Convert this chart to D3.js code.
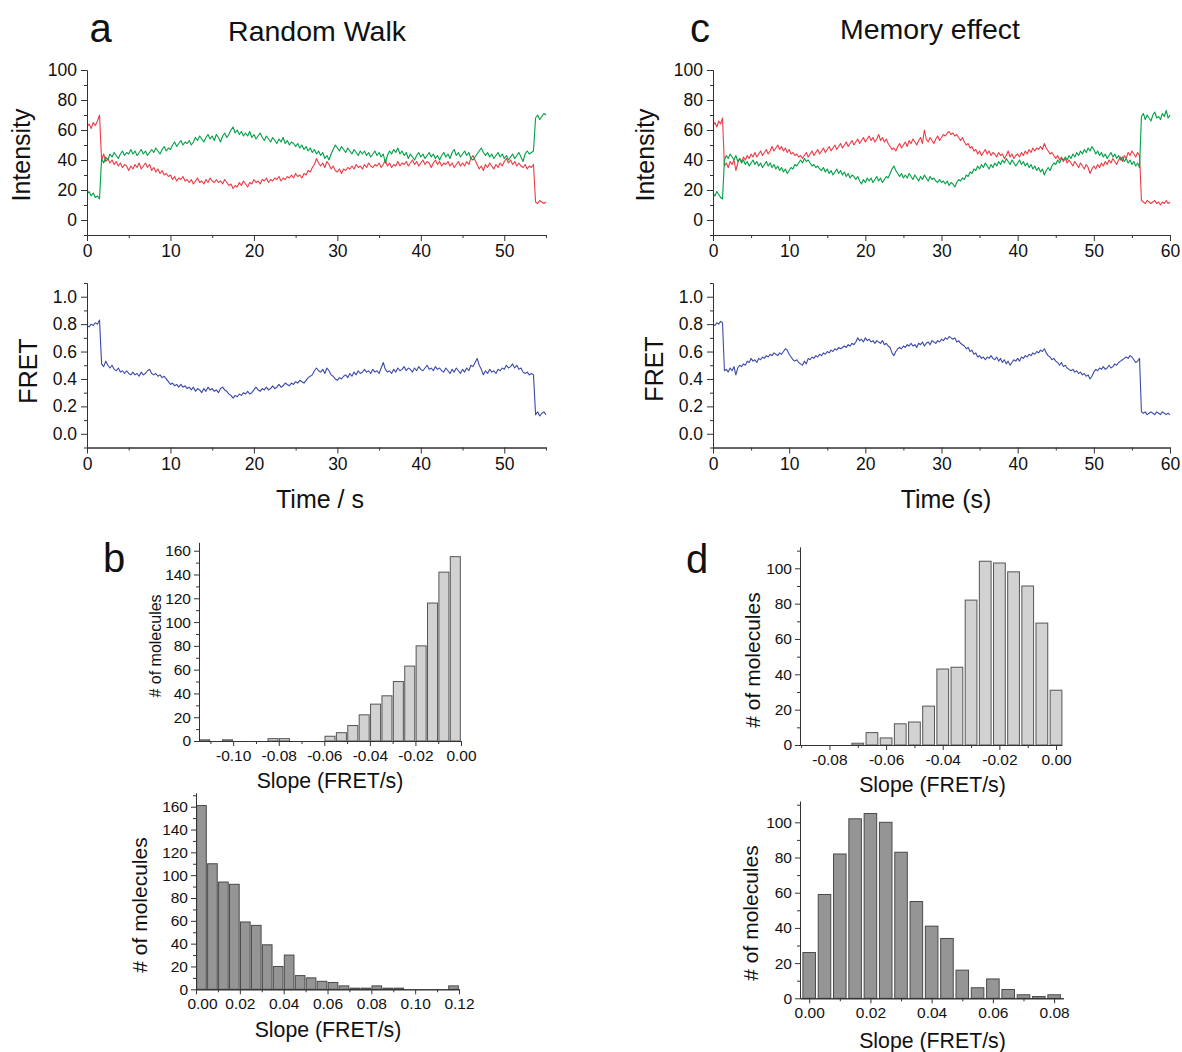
<!DOCTYPE html>
<html>
<head>
<meta charset="utf-8">
<script src="https://cdn.jsdelivr.net/npm/d3@7"></script>
<style>
  body { margin: 0; background: #fff; }
  text { font-family: "Liberation Sans", Arial, sans-serif; fill: #111; }
</style>
</head>
<body>
<svg id="fig" width="1182" height="1052"></svg>
<script>
// frames are 0.25 s apart
const frameTime = 0.25;

// ---- panel a: random walk trace (acceptor red, donor green, FRET) ----
const redA = [
  62,64,61,65,63,66,70,40,44,39,41,38,40,37,39,36,38,35,37,36,
  33,36,34,37,35,38,34,36,38,35,37,33,35,32,34,31,33,30,31,29,
  30,27,29,26,28,27,29,26,27,25,27,24,26,28,25,26,24,27,25,28,
  26,25,27,25,26,24,27,25,23,24,21,23,22,25,23,26,24,22,25,24,
  27,25,26,24,27,26,28,25,27,26,28,27,29,26,28,27,29,28,30,28,
  31,29,30,28,31,30,33,32,35,37,41,38,36,38,35,39,37,34,36,33,
  32,34,31,34,33,35,34,36,34,37,35,36,34,37,35,38,36,35,37,36,
  38,35,37,40,36,38,35,37,36,39,36,38,37,39,36,38,40,37,39,36,
  38,40,37,39,38,35,38,40,37,39,36,38,37,39,36,38,35,37,39,36,
  38,36,39,37,41,43,40,37,34,36,33,37,35,38,36,34,37,35,38,36,
  39,41,38,40,37,39,36,38,36,35,37,34,36,35,37,12,11,13,12,11,
  12
];
const greenA = [
  17,19,16,18,15,16,14,41,38,42,40,44,42,45,43,41,44,46,43,45,
  44,47,44,46,43,45,47,44,46,43,45,47,45,48,46,44,47,49,46,48,
  47,50,52,49,51,53,50,52,51,53,50,52,55,53,56,54,52,55,57,54,
  56,53,57,55,52,56,58,55,57,60,62,58,60,57,59,56,58,56,59,55,
  57,54,56,58,55,53,56,54,52,55,53,51,54,52,55,51,53,50,52,51,
  49,51,48,50,47,49,46,48,45,47,44,46,43,45,41,43,40,44,47,50,
  48,46,49,47,45,48,46,44,47,45,43,46,44,46,43,45,42,44,46,43,
  45,42,44,38,43,46,44,47,45,48,44,46,43,45,41,44,42,40,43,45,
  42,44,41,43,45,42,44,41,43,40,43,45,42,44,41,45,47,43,45,42,
  44,46,43,45,41,40,42,44,46,48,45,43,45,42,44,41,43,45,42,44,
  41,43,40,42,44,41,43,45,42,39,44,46,44,45,46,68,70,67,69,71,
  70
];
const fretA = [
  .79,.78,.80,.79,.81,.80,.83,.51,.49,.53,.50,.48,.50,.47,.46,.48,.45,.46,.44,.46,
  .44,.43,.45,.43,.44,.42,.45,.43,.44,.46,.47,.44,.43,.44,.42,.43,.41,.42,.40,.38,
  .36,.37,.35,.36,.34,.36,.34,.35,.33,.34,.32,.34,.31,.33,.32,.30,.33,.31,.34,.32,
  .33,.31,.32,.30,.33,.34,.32,.31,.29,.28,.26,.28,.27,.29,.28,.30,.29,.31,.29,.30,
  .32,.34,.32,.31,.33,.32,.34,.32,.33,.35,.33,.34,.36,.34,.35,.37,.36,.35,.37,.36,
  .38,.37,.39,.38,.37,.39,.41,.42,.43,.46,.48,.46,.45,.47,.44,.48,.46,.43,.42,.40,
  .39,.41,.40,.42,.43,.41,.44,.42,.45,.43,.46,.44,.45,.47,.45,.46,.44,.47,.45,.46,
  .44,.48,.52,.47,.45,.46,.44,.47,.45,.48,.46,.47,.49,.46,.48,.47,.45,.48,.46,.49,
  .47,.46,.48,.50,.47,.48,.46,.49,.47,.48,.46,.45,.48,.46,.44,.47,.45,.48,.46,.44,
  .47,.45,.48,.46,.50,.49,.52,.55,.50,.47,.43,.46,.44,.47,.45,.46,.44,.47,.46,.48,
  .47,.50,.48,.49,.51,.48,.50,.47,.48,.45,.44,.45,.43,.44,.43,.14,.16,.13,.15,.16,
  .14
];

// ---- panel c: memory effect trace ----
const redC = [
  63,65,62,66,64,68,36,38,35,39,37,40,33,38,41,39,42,40,43,41,
  44,42,45,42,44,46,43,45,47,44,46,49,46,48,50,47,49,46,48,45,
  47,44,45,43,44,42,43,41,43,45,42,44,46,43,45,47,44,46,48,45,
  47,49,46,48,50,47,49,51,48,50,52,49,51,53,50,52,54,51,53,55,
  52,54,56,53,55,52,54,57,53,55,52,54,51,49,47,48,46,49,51,48,
  50,52,49,53,51,54,52,50,53,55,51,60,54,52,55,53,51,54,56,53,
  55,57,56,58,59,57,58,56,57,55,53,55,52,50,51,48,49,46,47,44,
  46,43,45,47,44,46,43,45,44,42,45,43,44,41,43,46,42,44,41,43,
  44,42,45,43,46,44,47,45,48,46,48,47,49,47,51,48,46,44,45,43,
  41,43,40,42,39,41,38,40,38,36,39,37,35,38,36,34,37,35,31,34,
  36,34,37,35,38,36,39,37,40,38,41,39,37,40,42,39,43,41,45,43,
  46,44,42,45,43,13,12,11,13,12,11,12,13,11,12,10,12,11,13,11,
  12
];
const greenC = [
  18,16,19,17,15,14,40,43,41,44,42,40,43,39,41,38,40,37,39,36,
  38,40,37,39,36,38,35,37,39,36,38,35,37,34,36,33,35,32,34,31,
  33,35,34,37,36,38,40,38,41,39,40,38,36,37,35,36,34,33,35,32,
  34,31,33,30,32,34,31,33,30,32,29,31,28,30,29,27,29,26,24,27,
  25,28,26,28,25,27,29,26,28,25,27,29,28,31,34,36,33,31,29,31,
  28,30,28,31,29,27,30,28,26,29,27,30,28,26,29,27,28,26,25,27,
  25,26,24,26,23,25,24,22,25,27,26,28,27,30,29,32,31,34,33,36,
  34,37,35,38,36,34,37,35,38,36,39,37,40,38,41,39,37,40,38,36,
  38,40,37,39,36,38,35,37,34,36,33,35,32,34,30,33,35,33,36,38,
  37,40,38,41,40,42,40,43,41,44,42,45,43,46,44,47,45,48,46,49,
  47,44,46,43,45,42,44,41,43,45,42,44,41,43,40,42,39,41,38,40,
  37,39,36,38,35,69,71,67,70,68,66,70,72,68,69,67,71,69,73,68,
  70
];
const fretC = [
  .80,.79,.81,.80,.82,.81,.46,.47,.45,.48,.46,.49,.43,.48,.50,.49,.51,.50,.53,.52,
  .55,.53,.54,.52,.55,.54,.56,.55,.57,.56,.58,.57,.59,.58,.57,.59,.58,.60,.62,.61,
  .58,.56,.54,.53,.54,.52,.51,.50,.53,.51,.55,.54,.56,.55,.57,.56,.58,.57,.59,.58,
  .60,.59,.61,.60,.62,.61,.63,.62,.63,.64,.63,.65,.64,.66,.65,.67,.70,.68,.69,.67,
  .70,.68,.69,.67,.68,.66,.68,.67,.66,.68,.65,.66,.64,.63,.59,.57,.60,.62,.63,.62,
  .64,.63,.65,.64,.66,.64,.65,.63,.66,.65,.67,.64,.66,.67,.65,.68,.67,.66,.68,.67,
  .69,.68,.70,.69,.71,.70,.69,.70,.67,.68,.66,.65,.64,.62,.63,.60,.61,.58,.59,.56,
  .57,.55,.56,.54,.56,.55,.57,.55,.54,.56,.53,.55,.52,.54,.51,.53,.50,.52,.54,.53,
  .55,.53,.56,.55,.57,.56,.58,.57,.59,.58,.60,.59,.61,.60,.62,.59,.57,.56,.54,.55,
  .53,.52,.50,.52,.49,.50,.48,.47,.46,.47,.45,.46,.44,.45,.43,.44,.42,.43,.40,.42,
  .45,.47,.46,.48,.47,.49,.47,.48,.50,.48,.49,.51,.50,.52,.53,.54,.55,.56,.55,.57,
  .56,.54,.52,.53,.55,.16,.15,.16,.14,.15,.16,.15,.14,.16,.15,.14,.16,.15,.14,.15,
  .14
];

// ---- histograms (bin width 0.005 FRET/s) ----
const binWidth = 0.005;
// b: bins given by their left edge
const bNegStart = [-0.115,-0.11,-0.105,-0.1,-0.095,-0.09,-0.085,-0.08,-0.075,-0.07,-0.065,-0.06,
                   -0.055,-0.05,-0.045,-0.04,-0.035,-0.03,-0.025,-0.02,-0.015,-0.01,-0.005];
const bNegCount = [1,0,1,0,0,0,2,2,0,0,0,4,7,13,22,31,38,50,63,80,116,142,155];
const bPosStart = [0,0.005,0.01,0.015,0.02,0.025,0.03,0.035,0.04,0.045,0.05,0.055,
                   0.06,0.065,0.07,0.075,0.08,0.085,0.09,0.095,0.1,0.105,0.11,0.115];
const bPosCount = [161,110,94,92,59,56,39,20,30,12,10,7,6,3,1,1,3,1,1,0,0,0,0,3];
// d: bins given by their centre
const dNegMid = [-0.07,-0.065,-0.06,-0.055,-0.05,-0.045,-0.04,-0.035,-0.03,-0.025,-0.02,-0.015,-0.01,-0.005,0];
const dNegCount = [1,7,4,12,13,22,43,44,82,104,103,98,90,69,31];
const dPosMid = [0,0.005,0.01,0.015,0.02,0.025,0.03,0.035,0.04,0.045,0.05,0.055,0.06,0.065,0.07,0.075,0.08];
const dPosCount = [26,59,82,102,105,100,83,55,41,34,16,6,11,5,2,1,2];

// tick values
const timeTicksA = [0,10,20,30,40,50], timeMinorA = [5,15,25,35,45,55];
const timeTicksC = [0,10,20,30,40,50,60], timeMinorC = [5,15,25,35,45,55];
const intTicks = [0,20,40,60,80,100], intMinor = [-10,10,30,50,70,90];
const fretTicks = [0,0.2,0.4,0.6,0.8,1.0], fretMinor = [-0.1,0.1,0.3,0.5,0.7,0.9,1.1];
const bNegTicks = [-0.1,-0.08,-0.06,-0.04,-0.02,0], bNegMinor = [-0.11,-0.09,-0.07,-0.05,-0.03,-0.01];
const bPosTicks = [0,0.02,0.04,0.06,0.08,0.1,0.12], bPosMinor = [0.01,0.03,0.05,0.07,0.09,0.11];
const dNegTicks = [-0.08,-0.06,-0.04,-0.02,0], dNegMinor = [-0.09,-0.07,-0.05,-0.03,-0.01];
const dPosTicks = [0,0.02,0.04,0.06,0.08], dPosMinor = [0.01,0.03,0.05,0.07];
const count160Ticks = [0,20,40,60,80,100,120,140,160], count160Minor = [10,30,50,70,90,110,130,150,170];
const count100Ticks = [0,20,40,60,80,100], count100Minor = [10,30,50,70,90,110];

const RED = "#ee3a45", GREEN = "#00a046", BLUE = "#3c4aa8";

const svg = d3.select("#fig");
svg.append("rect").attr("width", 1182).attr("height", 1052).attr("fill", "#fff");

function axes(x, y, o) {
  const base = y.range()[0], left = x.range()[0];
  const gx = svg.append("g").attr("transform", `translate(0,${base})`).style("color", "#333");
  gx.append("g").call(d3.axisBottom(x).tickValues(o.xMinor).tickSize(3).tickSizeOuter(0).tickFormat(""));
  const major = gx.append("g").call(d3.axisBottom(x).tickValues(o.xTicks).tickSize(o.tick).tickSizeOuter(0)
      .tickPadding(o.xPad || o.pad).tickFormat(o.xFmt));
  // the first x label sits a little right of its tick, clear of the y label
  if (o.firstShift) major.select(".tick text").attr("dx", o.firstShift);
  const gy = svg.append("g").attr("transform", `translate(${left},0)`).style("color", "#333");
  gy.append("g").call(d3.axisLeft(y).tickValues(o.yMinor).tickSize(3).tickSizeOuter(0).tickFormat(""));
  gy.append("g").call(d3.axisLeft(y).tickValues(o.yTicks).tickSize(o.tick).tickSizeOuter(0)
      .tickPadding(o.pad).tickFormat(o.yFmt));
  [gx, gy].forEach(g => g.selectAll("text").style("font-size", o.font + "px"));
}

function label(txt, x, y, size, rotate, anchor) {
  svg.append("text")
    .attr("transform", `translate(${x},${y})` + (rotate ? " rotate(-90)" : ""))
    .attr("text-anchor", anchor || "middle")
    .style("font-size", size + "px")
    .text(txt);
}

function tracePanel(o) {
  const x = d3.scaleLinear().domain(o.xDomain).range(o.xRange);
  const y = d3.scaleLinear().domain(o.yDomain).range(o.yRange);
  o.series.forEach(s => {
    const line = d3.line().x((d, i) => x(i * frameTime)).y(d => y(d));
    svg.append("path").datum(s.values)
      .attr("fill", "none").attr("stroke", s.color).attr("stroke-width", 1.1)
      .attr("stroke-linejoin", "round").attr("d", line);
  });
  axes(x, y, Object.assign({ tick: 6, pad: 4, font: 17.5 }, o));
}

function histPanel(o) {
  const x = d3.scaleLinear().domain(o.xDomain).range(o.xRange);
  const y = d3.scaleLinear().domain(o.yDomain).range(o.yRange);
  const pitch = x(binWidth) - x(0);
  const w = pitch * o.fillFrac;
  svg.append("g").selectAll("rect")
    .data(o.counts)
    .join("rect")
    .attr("x", (d, i) => x(o.lefts[i]) + (pitch - w) / 2)
    .attr("width", w)
    .attr("y", d => y(d))
    .attr("height", d => y(0) - y(d))
    .attr("fill", o.fill).attr("stroke", o.edge).attr("stroke-width", 1);
  axes(x, y, Object.assign({ tick: 5, pad: 3, xPad: 4, font: 15.5, xFmt: d => d.toFixed(2), yFmt: d3.format("d") }, o));
}

// ----- a -----
tracePanel({ xDomain: [0, 55], xRange: [87, 546], yDomain: [-10, 100], yRange: [235, 70],
  series: [{ values: redA, color: RED }, { values: greenA, color: GREEN }],
  xTicks: timeTicksA, xMinor: timeMinorA, yTicks: intTicks, yMinor: intMinor,
  xFmt: d3.format("d"), yFmt: d3.format("d") });
tracePanel({ xDomain: [0, 55], xRange: [87, 546], yDomain: [-0.1, 1.1], yRange: [447.5, 283],
  series: [{ values: fretA, color: BLUE }],
  xTicks: timeTicksA, xMinor: timeMinorA, yTicks: fretTicks, yMinor: fretMinor,
  xFmt: d3.format("d"), yFmt: d => d.toFixed(1) });

// ----- c -----
tracePanel({ xDomain: [0, 60], xRange: [713, 1170], yDomain: [-10, 100], yRange: [235, 70],
  series: [{ values: redC, color: RED }, { values: greenC, color: GREEN }],
  xTicks: timeTicksC, xMinor: timeMinorC, yTicks: intTicks, yMinor: intMinor,
  xFmt: d3.format("d"), yFmt: d3.format("d") });
tracePanel({ xDomain: [0, 60], xRange: [713, 1170], yDomain: [-0.1, 1.1], yRange: [447.5, 283],
  series: [{ values: fretC, color: BLUE }],
  xTicks: timeTicksC, xMinor: timeMinorC, yTicks: fretTicks, yMinor: fretMinor,
  xFmt: d3.format("d"), yFmt: d => d.toFixed(1) });

// ----- b -----
histPanel({ xDomain: [-0.115, 0], xRange: [199, 461], yDomain: [0, 167], yRange: [741, 542.4],
  lefts: bNegStart, counts: bNegCount, fill: "#d2d2d2", edge: "#555", fillFrac: 0.88,
  xTicks: bNegTicks, xMinor: bNegMinor, yTicks: count160Ticks, yMinor: count160Minor.filter(v => v < 167) });
histPanel({ xDomain: [0, 0.12], xRange: [196, 459], yDomain: [0, 172], yRange: [989.3, 793],
  lefts: bPosStart, counts: bPosCount, fill: "#959595", edge: "#4a4a4a", fillFrac: 0.88, firstShift: 6,
  xTicks: bPosTicks, xMinor: bPosMinor, yTicks: count160Ticks, yMinor: count160Minor });

// ----- d -----
histPanel({ xDomain: [-0.0904, 0.002], xRange: [800, 1061.7], yDomain: [0, 112], yRange: [745, 547.1],
  lefts: dNegMid.map(m => m - binWidth / 2), counts: dNegCount, fill: "#d2d2d2", edge: "#555", fillFrac: 0.83,
  xTicks: dNegTicks, xMinor: dNegMinor, yTicks: count100Ticks, yMinor: count100Minor });
histPanel({ xDomain: [-0.003, 0.083], xRange: [800, 1063.3], yDomain: [0, 112], yRange: [998.3, 801.2],
  lefts: dPosMid.map(m => m - binWidth / 2), counts: dPosCount, fill: "#959595", edge: "#4a4a4a", fillFrac: 0.82,
  xTicks: dPosTicks, xMinor: dPosMinor, yTicks: count100Ticks, yMinor: count100Minor });

// ----- labels -----
label("a", 100.5, 41.5, 40);
label("c", 700, 41.5, 40);
label("b", 114, 572, 40);
label("d", 697, 573, 40);
label("Random Walk", 317, 40.5, 28.5);
label("Memory effect", 930, 38.5, 28.5);

label("Intensity", 30, 155, 25, true);
label("Intensity", 654, 155, 25, true);
label("FRET", 37, 371, 25, true);
label("FRET", 663, 369, 25, true);
label("Time / s", 320, 508, 25);
label("Time (s)", 946, 508, 25);

label("# of molecules", 161, 646, 16, true);
label("# of molecules", 146.5, 905, 21, true);
label("# of molecules", 760, 660, 21, true);
label("# of molecules", 758, 913, 21, true);
label("Slope (FRET/s)", 330, 788, 21.3);
label("Slope (FRET/s)", 328, 1036.5, 21.3);
label("Slope (FRET/s)", 932.5, 791.5, 21.3);
label("Slope (FRET/s)", 932.5, 1048, 21.3);
</script>
</body>
</html>
